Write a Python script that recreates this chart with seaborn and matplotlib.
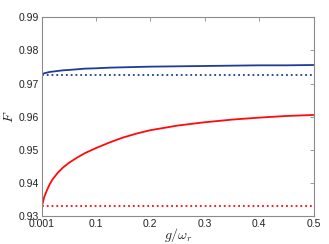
import numpy as np
import pandas as pd
import seaborn as sns
import matplotlib.pyplot as plt

# values
g_over_wr = [0.001, 0.005, 0.01, 0.015, 0.02, 0.03, 0.04, 0.05, 0.065, 0.08, 0.1,
             0.125, 0.15, 0.175, 0.2, 0.25, 0.3, 0.35, 0.4, 0.45, 0.5]
F_blue = [0.9728, 0.9731, 0.9733, 0.9735, 0.9736, 0.9738, 0.9740, 0.9741, 0.9743,
          0.9745, 0.9746, 0.9748, 0.9749, 0.9750, 0.9751, 0.9752, 0.9753, 0.9754,
          0.9755, 0.9755, 0.9756]
F_red = [0.9331, 0.9358, 0.9378, 0.9396, 0.9410, 0.9431, 0.9447, 0.9460, 0.9476,
         0.9490, 0.9505, 0.9522, 0.9537, 0.9549, 0.9559, 0.9573, 0.9583, 0.9591,
         0.9597, 0.9602, 0.9605]
F_blue_ref = 0.97257
F_red_ref = 0.9329

x_ticks = [0.001, 0.1, 0.2, 0.3, 0.4, 0.5]
x_ticklabels = ['0.001', '0.1', '0.2', '0.3', '0.4', '0.5']
y_ticks = [0.93, 0.94, 0.95, 0.96, 0.97, 0.98, 0.99]

sns.set_theme(style='white')
plt.rcParams['font.family'] = ['Liberation Sans', 'DejaVu Sans']
plt.rcParams['mathtext.fontset'] = 'cm'

blue = '#1e3b98'
red = '#ff0a0a'
frame = '#8a8a8a'

df = pd.DataFrame({'g': g_over_wr, 'blue': F_blue, 'red': F_red})
df['blue_ref'] = F_blue_ref
df['red_ref'] = F_red_ref

fig, ax = plt.subplots(figsize=(3.29, 2.44), dpi=100)
plt.subplots_adjust(left=0.128, right=0.953, bottom=0.115, top=0.929)

sns.lineplot(data=df, x='g', y='blue', ax=ax, color=blue, lw=1.3)
sns.lineplot(data=df, x='g', y='blue_ref', ax=ax, color=blue, lw=1.3, linestyle=':')
sns.lineplot(data=df, x='g', y='red', ax=ax, color=red, lw=1.3)
sns.lineplot(data=df, x='g', y='red_ref', ax=ax, color=red, lw=1.3, linestyle=':')

ax.set_xlim(0.001, 0.5)
ax.set_ylim(0.93, 0.99)
ax.set_xticks(x_ticks)
ax.set_xticklabels(x_ticklabels)
ax.set_yticks(y_ticks)
ax.set_yticklabels([f'{v:.2f}' for v in y_ticks])

ax.tick_params(direction='in', length=3, width=0.6, color=frame,
               top=True, right=True, labelsize=7.5, pad=2, labelcolor='#222222')
for s in ax.spines.values():
    s.set_color(frame)
    s.set_linewidth(0.8)

ax.set_xlabel(r'$g/\omega_r$', fontsize=10)
ax.xaxis.set_label_coords(0.5, -0.05)
ax.set_ylabel(r'$F$', fontsize=10, labelpad=2)

plt.savefig('out.png', dpi=100)
